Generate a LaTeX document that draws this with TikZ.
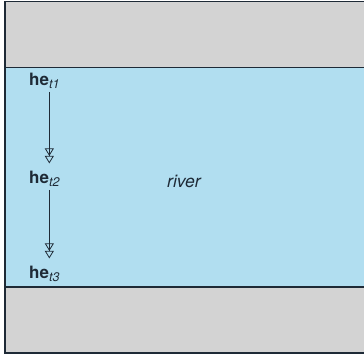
\documentclass[tikz,border=0pt]{standalone}
\usepackage{fontspec}
\setmainfont{TeX Gyre Heros}
\usetikzlibrary{arrows.meta}
\definecolor{bank}{HTML}{D3D3D3}
\definecolor{water}{HTML}{B1DEF0}
\definecolor{ink}{HTML}{1E2A36}
\tikzset{
  state/.style={inner sep=0pt, text=ink, anchor=base west},
  flow/.style={draw=ink, line width=0.8pt, shorten <=3pt, shorten >=7pt,
    -{Triangle[open,length=7.5pt,width=9pt]Triangle[open,length=7.5pt,width=9pt]}},
  edge/.style={draw=ink, line width=1.3pt}
}
\newcommand{\hesub}[1]{{\fontsize{17}{17}\selectfont\bfseries he}\raisebox{-3.5pt}{\fontsize{12.5}{12.5}\selectfont\itshape #1}}
\begin{document}
\begin{tikzpicture}[x=1pt,y=-1pt]
\useasboundingbox (0,0) rectangle (364,356);
\fill[bank] (5,1.5) rectangle (364,353);
\fill[water] (5,67.5) rectangle (364,287);
\draw[edge] (364,1.5) -- (5,1.5) -- (5,353) -- (364,353);
\draw[edge] (5,67.5) -- (364,67.5);
\draw[edge] (5,287) -- (364,287);
\node[state] (he1) at (29,85) {\hesub{t1}};
\node[state] (he2) at (29,183) {\hesub{t2}};
\node[state] (he3) at (29,278) {\hesub{t3}};
\node[state, font=\fontsize{17.5}{17.5}\selectfont\itshape] (river) at (167,187) {river};
\draw[flow] ([xshift=5pt]he1.south) -- ([xshift=5pt]he2.north);
\draw[flow] ([xshift=5pt]he2.south) -- ([xshift=5pt]he3.north);
\end{tikzpicture}
\end{document}
